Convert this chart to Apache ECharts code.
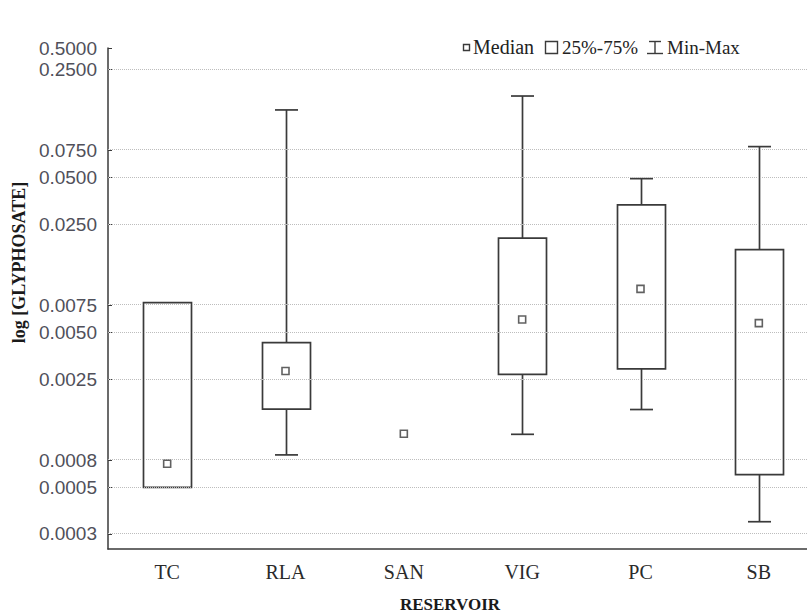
<!DOCTYPE html>
<html><head><meta charset="utf-8">
<script src="https://cdn.jsdelivr.net/npm/echarts@6/dist/echarts.min.js"></script>
<style>html,body{margin:0;padding:0;background:#fff;overflow:hidden}#c{width:807px;height:613px}</style>
</head><body><div id="c"></div>
<script>
// ---- data ----
const categories = ['TC', 'RLA', 'SAN', 'VIG', 'PC', 'SB'];
const minVals    = [0.0005,  0.00081, 0.00111, 0.0011,  0.00159, 0.0003];
const q1Vals     = [0.0005,  0.0016,  0.00111, 0.00268, 0.00291, 0.000604];
const medianVals = [0.00071, 0.00282, 0.00111, 0.00606, 0.00956, 0.00574];
const q3Vals     = [0.0078,  0.0043,  0.00111, 0.0203,  0.0333,  0.01715];
const maxVals    = [0.0078,  0.1366,  0.00111, 0.168,   0.0492,  0.0792];
const tickValues = [0.00025, 0.0005, 0.00075, 0.0025, 0.005, 0.0075, 0.025, 0.05, 0.075, 0.25, 0.343];
const tickLabels = ['0.0003','0.0005','0.0008','0.0025','0.0050','0.0075','0.0250','0.0500','0.0750','0.2500','0.5000'];
const axisMin = 0.0002, axisMax = 0.343;
const legendLabels = ['Median', '25%-75%', 'Min-Max'];
const xTitle = 'RESERVOIR';
const yTitle = 'log [GLYPHOSATE]';

// ---- build ----
const L = Math.log10;
const tickLogs = tickValues.map(L);
const SERIF = '"Liberation Serif","Times New Roman",serif';
const INK = '#3a3a3a';
const boxData = categories.map((c, i) => [i, L(minVals[i]), L(q1Vals[i]), L(medianVals[i]), L(q3Vals[i]), L(maxVals[i])]);
const medData = categories.map((c, i) => [i, L(medianVals[i])]);

function labelFor(v) {
  for (let i = 0; i < tickLogs.length; i++) if (Math.abs(tickLogs[i] - v) < 1e-6) return tickLabels[i];
  return '';
}

const chart = echarts.init(document.getElementById('c'), null, {renderer: 'svg'});
chart.setOption({
  animation: false,
  backgroundColor: '#fff',
  grid: {left: 108, width: 710, top: 48, bottom: 64, containLabel: false, outerBoundsMode: 'none'},
  xAxis: {
    type: 'category', data: categories, boundaryGap: true,
    axisLine: {lineStyle: {color: INK, width: 1.5}},
    axisTick: {alignWithLabel: true, inside: true, length: 4, lineStyle: {color: INK}},
    axisLabel: {fontFamily: SERIF, fontSize: 20, color: '#2a2a2a', margin: 13},
    splitLine: {show: false},
    name: xTitle, nameLocation: 'middle', nameGap: 47,
    nameTextStyle: {fontFamily: SERIF, fontSize: 17, fontWeight: 'bold', color: '#1a1a1a', padding: [0, 26, 0, 0]}
  },
  yAxis: {
    type: 'value', min: L(axisMin), max: L(axisMax),
    axisLine: {show: true, lineStyle: {color: INK, width: 1.5}},
    axisTick: {show: true, inside: true, length: 4, lineStyle: {color: INK}, customValues: tickLogs},
    axisLabel: {customValues: tickLogs, formatter: v => labelFor(v), fontFamily: '"Liberation Sans",Arial,sans-serif',
      fontSize: 19, color: '#50505a', margin: 11},
    splitLine: {show: false},
    name: yTitle, nameLocation: 'middle', nameGap: 78, nameRotate: 90,
    nameTextStyle: {fontFamily: SERIF, fontSize: 18, fontWeight: 'bold', color: '#1a1a1a', padding: [0, 0, 0, 72]}
  },
  series: [
    {
      type: 'scatter', name: 'grid', data: [], z: 1, silent: true,
      markLine: {
        silent: true, symbol: ['none', 'none'], label: {show: false}, animation: false,
        lineStyle: {color: '#bdbdbd', type: 'dotted', width: 1},
        emphasis: {disabled: true},
        data: tickLogs.slice(0, -1).map(v => ({yAxis: v}))
      }
    },
    {
      type: 'custom', name: '25%-75%', data: boxData, encode: {x: 0, y: [1, 2, 3, 4, 5]}, z: 2,
      renderItem(params, api) {
        const x = api.value(0);
        const mn = api.value(1), q1 = api.value(2), q3 = api.value(4), mx = api.value(5);
        const pMin = api.coord([x, mn]), pQ1 = api.coord([x, q1]), pQ3 = api.coord([x, q3]), pMax = api.coord([x, mx]);
        const cx = Math.round(pQ1[0]) + 0.5;
        const bw = 48, cw = 23;
        const st = {stroke: INK, lineWidth: 1.7, fill: null};
        const ch = [];
        if (mx > q3) {
          ch.push({type: 'line', shape: {x1: cx, y1: pQ3[1], x2: cx, y2: pMax[1]}, style: st});
          ch.push({type: 'line', shape: {x1: cx - cw / 2, y1: pMax[1], x2: cx + cw / 2, y2: pMax[1]}, style: st});
        }
        if (mn < q1) {
          ch.push({type: 'line', shape: {x1: cx, y1: pQ1[1], x2: cx, y2: pMin[1]}, style: st});
          ch.push({type: 'line', shape: {x1: cx - cw / 2, y1: pMin[1], x2: cx + cw / 2, y2: pMin[1]}, style: st});
        }
        if (q3 > q1) {
          ch.push({type: 'rect', shape: {x: cx - bw / 2, y: pQ3[1], width: bw, height: pQ1[1] - pQ3[1]},
            style: {fill: '#fff', stroke: INK, lineWidth: 1.7}});
        }
        return {type: 'group', children: ch};
      }
    },
    {
      type: 'scatter', name: 'Median', data: medData, z: 5, symbol: 'rect', symbolSize: [7, 7],
      itemStyle: {color: '#fff', borderColor: INK, borderWidth: 1.6}
    }
  ],
  graphic: [
    {type: 'rect', shape: {x: 463.5, y: 44.5, width: 6, height: 6}, style: {fill: '#fff', stroke: INK, lineWidth: 1.4}},
    {type: 'text', x: 473, y: 47, style: {text: legendLabels[0], font: '20px ' + SERIF, fill: '#222', verticalAlign: 'middle'}},
    {type: 'rect', shape: {x: 545.5, y: 41.5, width: 12, height: 12}, style: {fill: '#fff', stroke: INK, lineWidth: 1.4}},
    {type: 'text', x: 562, y: 47, style: {text: legendLabels[1], font: '19px ' + SERIF, fill: '#222', verticalAlign: 'middle'}},
    {type: 'line', shape: {x1: 649, y1: 41.5, x2: 661, y2: 41.5}, style: {stroke: INK, lineWidth: 1.4}},
    {type: 'line', shape: {x1: 655, y1: 41.5, x2: 655, y2: 53.5}, style: {stroke: INK, lineWidth: 1.4}},
    {type: 'line', shape: {x1: 647, y1: 53.5, x2: 663, y2: 53.5}, style: {stroke: INK, lineWidth: 1.4}},
    {type: 'text', x: 667, y: 47, style: {text: legendLabels[2], font: '19px ' + SERIF, fill: '#222', verticalAlign: 'middle'}}
  ]
});
</script></body></html>
